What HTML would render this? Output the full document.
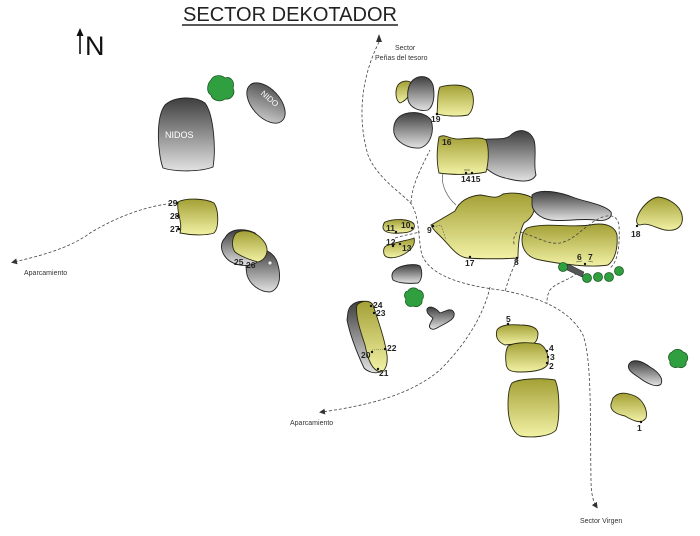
<!DOCTYPE html>
<html><head><meta charset="utf-8"><style>
html,body{margin:0;padding:0;background:#fff;}
svg{display:block;}
.n{font-family:"Liberation Sans",sans-serif;font-size:8.5px;font-weight:bold;fill:#222;}
.t{font-family:"Liberation Sans",sans-serif;font-size:7px;fill:#333;}
.y{fill:url(#gy);stroke:#2a2a10;stroke-width:0.9;}
.g{fill:url(#gg);stroke:#222;stroke-width:0.9;}
.gr{fill:#2f9f3f;stroke:#1c5a24;stroke-width:0.8;}
.p{fill:none;stroke:#444;stroke-width:0.8;stroke-dasharray:3 2;}
</style></head><body>
<svg width="700" height="536" viewBox="0 0 700 536" xmlns="http://www.w3.org/2000/svg">
<defs>
<linearGradient id="gy" x1="0" y1="0" x2="0" y2="1">
<stop offset="0" stop-color="#a3a035"/><stop offset="1" stop-color="#f2f2a6"/>
</linearGradient>
<linearGradient id="gg" x1="0" y1="0" x2="0" y2="1">
<stop offset="0" stop-color="#3e3e3e"/><stop offset="1" stop-color="#e2e2e2"/>
</linearGradient>
<linearGradient id="gg2" x1="0" y1="0" x2="1" y2="1">
<stop offset="0" stop-color="#3e3e3e"/><stop offset="1" stop-color="#dcdcdc"/>
</linearGradient>
<marker id="ah" markerWidth="6" markerHeight="6" refX="3" refY="3" orient="auto" markerUnits="userSpaceOnUse">
<path d="M0,0 L6,3 L0,6 Z" fill="#333"/>
</marker>
</defs>

<!-- Title -->
<text x="290" y="21" text-anchor="middle" font-family="Liberation Sans, sans-serif" font-size="20" fill="#222" textLength="214" lengthAdjust="spacingAndGlyphs">SECTOR DEKOTADOR</text>
<line x1="182" y1="25" x2="398" y2="25" stroke="#222" stroke-width="1.4"/>

<!-- North -->
<line x1="80" y1="54" x2="80" y2="34" stroke="#111" stroke-width="1.6"/>
<path d="M76.5,36 L80,28 L83.5,36 Z" fill="#111"/>
<text x="85" y="55" font-family="Liberation Sans, sans-serif" font-size="27" fill="#111">N</text>

<!-- Trails -->
<path class="p" d="M379,42 C365,70 355,110 368,155 C378,180 405,195 412,205 C420,220 418,240 422,255 C430,275 460,285 500,290 C540,297 570,310 583,335 C592,360 590,420 591,480 C591,495 594,503 596,506" marker-end="url(#ah)"/>
<path d="M376,42 L379,34 L382,42 Z" fill="#333"/>
<path class="p" d="M411,203 C412,185 420,170 430,150"/>
<path class="p" d="M395,238 C405,235 412,234 420,232"/>
<path class="p" d="M490,287 C485,310 470,340 440,370 C410,395 370,405 322,412" marker-end="url(#ah)"/>
<path class="p" d="M517,260 C512,270 508,280 505,292"/>
<path class="p" d="M577,273 C570,280 555,283 550,290 C547,295 547,300 547,303"/>
<path class="p" d="M176,203 C150,205 120,215 90,233 C70,248 40,256 14,262" marker-end="url(#ah)"/>

<!-- Left cluster -->
<path class="gr" d="M211,80 C214,74 222,75 225,78 C231,76 235,82 233,88 C236,94 231,100 225,99 C220,103 212,100 211,95 C206,92 207,84 211,80 Z"/>
<ellipse class="g" cx="266" cy="103" rx="24" ry="14" transform="rotate(48 266 103)" style="fill:url(#gg2)"/>
<text x="256" y="100" transform="rotate(40 266 103)" font-family="Liberation Sans, sans-serif" font-size="8" fill="#fff">NIDO</text>
<path class="g" d="M165,105 C175,96 195,96 205,103 C214,115 216,150 213,167 C200,172 175,172 163,168 C158,155 155,118 165,105 Z"/>
<text x="165" y="138" font-family="Liberation Sans, sans-serif" font-size="9" fill="#fff">NIDOS</text>

<path class="y" d="M178,202 C185,198 205,198 214,203 C219,210 219,228 214,233 C205,236 190,235 180,233 C183,222 176,212 178,202 Z"/>
<circle cx="177" cy="203" r="1.3" fill="#111"/><circle cx="178" cy="216" r="1.3" fill="#111"/><circle cx="179" cy="229" r="1.3" fill="#111"/>
<text class="n" x="168" y="206">29</text><text class="n" x="170" y="219">28</text><text class="n" x="170" y="232">27</text>

<path class="g" d="M250,252 C262,245 275,252 278,265 C282,280 278,290 270,292 C260,292 250,285 247,275 C245,265 246,256 250,252 Z"/>
<path class="g" d="M225,238 C230,228 245,228 255,233 C262,240 262,255 256,263 C245,268 230,265 224,255 C220,248 221,242 225,238 Z"/>
<path class="y" d="M236,233 C245,228 258,232 265,243 C270,252 265,260 258,262 C250,260 240,256 235,252 C231,246 232,238 236,233 Z"/>
<circle cx="270" cy="263" r="2" fill="#eee" stroke="#555" stroke-width="0.5"/>
<text class="n" x="234" y="265">25</text><text class="n" x="246" y="268">26</text>

<!-- Labels -->
<text class="t" x="395" y="50">Sector</text>
<text class="t" x="375" y="60">Peñas del tesoro</text>
<text class="t" x="24" y="275">Aparcamiento</text>
<text class="t" x="290" y="425">Aparcamiento</text>
<text class="t" x="580" y="523">Sector Virgen</text>

<!-- Center top -->
<path class="y" d="M398,85 C402,80 410,80 412,84 C412,92 408,100 400,103 C395,100 395,90 398,85 Z"/>
<path class="g" d="M413,80 C420,74 430,76 433,85 C435,95 434,106 428,110 C420,112 410,108 408,100 C407,92 408,85 413,80 Z"/>
<path class="y" d="M440,87 C450,84 465,84 471,90 C475,98 474,110 468,115 C458,117 445,116 437,114 C438,104 437,93 440,87 Z"/>
<circle cx="437" cy="114" r="1.3" fill="#111"/>
<text class="n" x="431" y="122">19</text>
<path class="g" d="M398,118 C405,110 425,111 431,120 C435,132 430,145 420,148 C408,149 396,142 394,133 C393,126 395,121 398,118 Z"/>
<path class="g" d="M482,140 C492,137 505,142 512,134 C520,128 530,130 534,140 C537,150 533,165 536,175 C532,183 520,182 505,178 C495,176 488,170 482,165 C480,155 480,145 482,140 Z"/>
<path class="y" d="M439,137 C445,133 450,140 460,139 C472,138 482,137 486,140 C490,150 488,165 486,172 C472,175 452,175 439,173 C436,160 437,148 439,137 Z"/>
<text class="n" x="442" y="145">16</text>
<circle cx="466" cy="173" r="1.2" fill="#111"/><circle cx="472" cy="173" r="1.2" fill="#111"/>
<path d="M464,170 L470,170" stroke="#333" stroke-width="0.6" fill="none"/>
<text class="n" x="461" y="182">14</text><text class="n" x="471" y="182">15</text>
<path d="M443,173 C440,185 448,198 456,205" stroke="#555" stroke-width="0.7" fill="none"/>

<!-- Big central rock -->
<path class="y" d="M431,225 C440,220 450,214 455,211 C460,200 470,196 480,195 C490,196 495,200 503,194 C512,192 528,193 535,200 C536,210 532,218 524,223 C519,232 518,248 518,258 C505,259 480,259 467,258 C455,256 450,245 437,233 C434,230 432,228 431,225 Z"/>
<path d="M433,227 L441,225 L446,240" stroke="#555" stroke-width="0.6" fill="none" stroke-dasharray="1.5 1.5"/>
<path class="p" d="M517,232 C513,236 513,243 515,246"/>
<circle cx="433" cy="226" r="1.2" fill="#111"/><circle cx="470" cy="257" r="1.2" fill="#111"/><circle cx="517" cy="258" r="1.2" fill="#111"/>
<text class="n" x="427" y="233">9</text><text class="n" x="465" y="266">17</text><text class="n" x="514" y="265">8</text>

<!-- Right big -->
<path class="g" d="M532,195 C540,188 560,192 575,198 C590,203 605,205 611,212 C613,218 605,222 595,220 C580,218 565,222 550,220 C540,218 533,212 532,205 Z"/>
<path class="y" d="M527,228 C545,222 570,228 590,225 C605,222 615,226 617,235 C618,248 615,260 608,265 C590,268 560,264 540,260 C528,258 522,250 522,240 C522,233 524,230 527,228 Z"/>
<path class="p" d="M520,232 C535,236 548,245 560,243 C575,240 585,225 600,218 C610,214 617,215 619,225 C620,245 618,262 610,268"/>
<circle cx="585" cy="264" r="1.2" fill="#111"/>
<path d="M576,262 L582,261 M588,261 L593,262" stroke="#444" stroke-width="0.6"/>
<text class="n" x="577" y="260">6</text><text class="n" x="588" y="260">7</text>
<path d="M568,264 L584,272 L582,277 L567,270 Z" fill="#555" stroke="#222" stroke-width="0.5"/>
<circle class="gr" cx="563" cy="267" r="4.5"/>
<circle class="gr" cx="587" cy="278" r="4.5"/>
<circle class="gr" cx="598" cy="277" r="4.5"/>
<circle class="gr" cx="609" cy="277" r="4.5"/>
<circle class="gr" cx="619" cy="271" r="4.5"/>

<path class="y" d="M637,218 C640,208 650,198 658,197 C668,198 680,205 682,215 C684,225 678,232 665,230 C655,228 648,222 640,225 C637,225 636,222 637,218 Z"/>
<circle cx="637" cy="226" r="1.2" fill="#111"/>
<text class="n" x="631" y="237">18</text>

<!-- 10-13 -->
<path class="y" d="M385,222 C395,218 410,219 414,224 C416,230 410,233 400,233 C390,234 384,232 383,228 C383,225 384,223 385,222 Z"/>
<circle cx="396" cy="232" r="1.2" fill="#111"/><circle cx="412" cy="228" r="1.2" fill="#111"/>
<text class="n" x="386" y="231">11</text><text class="n" x="401" y="228">10</text>
<path class="y" d="M386,246 C395,242 410,240 414,238 C416,245 410,252 400,256 C392,259 385,258 384,254 C383,250 384,247 386,246 Z"/>
<circle cx="393" cy="246" r="1.2" fill="#111"/><circle cx="400" cy="244" r="1.2" fill="#111"/>
<text class="n" x="386" y="245">12</text><text class="n" x="402" y="251">13</text>
<path class="g" d="M395,270 C400,265 415,263 420,266 C423,272 422,280 418,283 C408,284 398,283 393,280 C391,276 392,272 395,270 Z"/>
<path class="gr" d="M408,291 C410,287 416,287 418,290 C423,290 425,296 422,300 C423,305 417,308 413,306 C408,308 404,303 406,299 C403,296 405,291 408,291 Z"/>
<path class="g" d="M427,309 C430,305 436,308 440,313 L448,310 C453,309 456,313 453,318 C450,322 442,325 437,328 C432,331 428,328 430,324 L433,318 C430,316 426,313 427,309 Z"/>

<!-- 20-24 -->
<path class="g" d="M348,312 C350,302 360,300 368,302 C370,320 378,345 380,372 C375,374 368,372 364,368 C358,355 350,335 347,320 Z"/>
<path class="y" d="M357,305 C362,300 370,300 373,305 C378,320 385,340 387,355 C388,365 385,372 380,372 C372,370 368,360 365,345 C360,330 355,315 357,305 Z"/>
<path d="M372,350 L385,349" stroke="#555" stroke-width="0.5" stroke-dasharray="1 1"/>
<circle cx="371" cy="306" r="1.2" fill="#111"/><circle cx="374" cy="313" r="1.2" fill="#111"/><circle cx="385" cy="349" r="1.2" fill="#111"/><circle cx="372" cy="352" r="1.2" fill="#111"/><circle cx="378" cy="369" r="1.2" fill="#111"/>
<text class="n" x="373" y="308">24</text><text class="n" x="376" y="316">23</text><text class="n" x="387" y="351">22</text><text class="n" x="361" y="358">20</text><text class="n" x="379" y="376">21</text>

<!-- 1-5 -->
<path class="y" d="M497,330 C500,325 510,324 520,325 C530,325 537,327 538,333 C538,340 535,344 530,345 C520,344 510,344 505,345 C498,342 495,337 497,330 Z"/>
<circle cx="508" cy="324" r="1.2" fill="#111"/>
<text class="n" x="506" y="322">5</text>
<path class="y" d="M508,346 C515,342 530,342 540,344 C547,348 549,357 548,364 C545,370 535,372 520,372 C510,372 506,370 506,362 C505,355 506,350 508,346 Z"/>
<circle cx="547" cy="351" r="1.2" fill="#111"/><circle cx="548" cy="357" r="1.2" fill="#111"/><circle cx="547" cy="363" r="1.2" fill="#111"/>
<text class="n" x="549" y="351">4</text><text class="n" x="550" y="360">3</text><text class="n" x="549" y="369">2</text>
<path class="y" d="M512,383 C520,378 545,378 555,380 C560,390 560,420 556,430 C550,437 530,438 520,436 C512,432 508,420 508,405 C508,395 509,387 512,383 Z"/>

<path class="g" d="M629,364 C633,358 642,361 650,367 C657,371 664,378 661,384 C657,388 648,384 641,379 C634,374 626,370 629,364 Z"/>
<path class="gr" d="M672,352 C675,348 681,349 683,352 C688,353 689,359 686,362 C687,366 682,369 678,367 C673,369 669,365 670,361 C667,358 669,353 672,352 Z"/>
<path class="y" d="M613,398 C618,392 625,392 635,396 C643,400 648,410 646,418 C642,424 635,422 625,416 C615,414 610,410 611,404 Z"/>
<circle cx="641" cy="422" r="1.2" fill="#111"/>
<text class="n" x="637" y="431">1</text>
</svg>
</body></html>
